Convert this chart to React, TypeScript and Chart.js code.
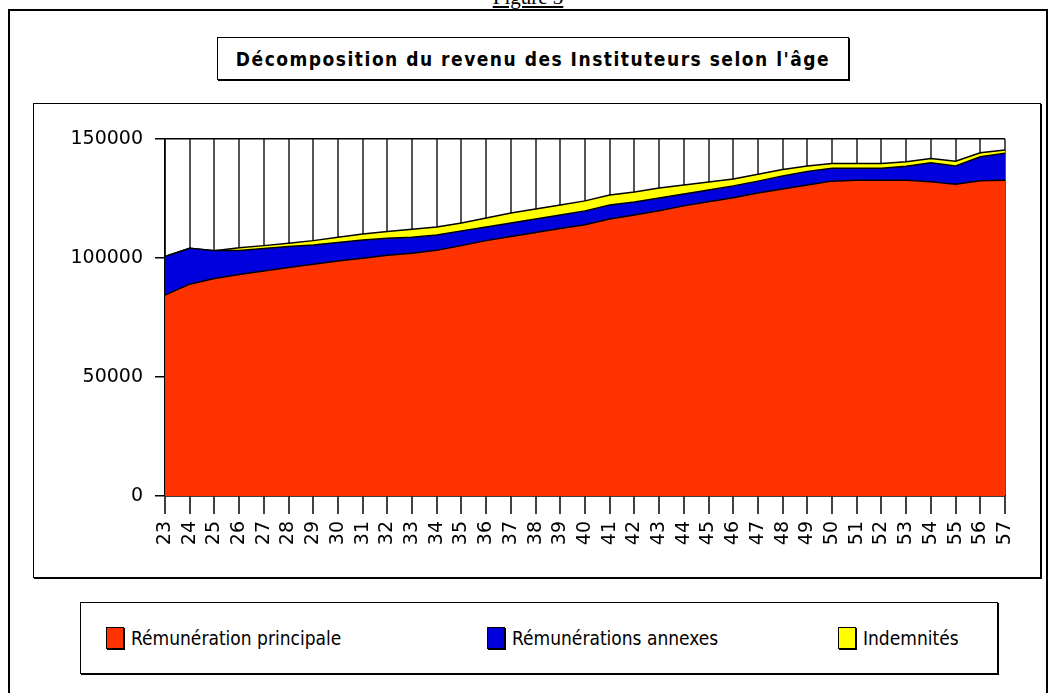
import React, { useEffect, useRef } from "react";
import { Chart, registerables } from "chart.js";

Chart.register(...registerables);

const ages = ["23","24","25","26","27","28","29","30","31","32","33","34","35","36","37","38","39","40","41","42","43","44","45","46","47","48","49","50","51","52","53","54","55","56","57"];

const remPrincipale = [84400, 89000, 91400, 93100, 94500, 96000, 97400, 98700, 99900, 101200, 102000, 103300, 105200, 107300, 109000, 110700, 112400, 114000, 116400, 118100, 119900, 121900, 123600, 125300, 127300, 129000, 130700, 132300, 132700, 132700, 132700, 132000, 131000, 132500, 132700];

const remAnnexes = [16200, 15100, 11700, 10000, 9500, 8800, 8100, 7800, 7700, 7100, 6700, 6400, 6200, 5700, 5700, 5700, 5700, 5800, 5900, 5400, 5300, 5000, 5000, 5000, 5000, 5500, 5700, 5400, 5000, 5000, 5900, 8000, 7700, 10000, 11300];

const indemnites = [0, 0, 0, 1200, 1200, 1400, 1800, 2200, 2500, 2800, 3400, 3300, 3300, 3800, 4200, 4200, 4200, 4200, 4200, 4200, 4200, 3800, 3300, 2900, 2900, 2700, 2300, 2000, 2000, 2000, 1800, 1800, 2000, 1700, 1400];

const yTicks = [0, 50000, 100000, 150000];

const seriesNames = ["Rémunération principale", "Rémunérations annexes", "Indemnités"];
const seriesColors = ["#ff3300", "#0000dd", "#ffff00"];

const tickFont = { family: "'DejaVu Sans', sans-serif", size: 19 };

export default function App() {
  const canvasRef = useRef<HTMLCanvasElement | null>(null);

  useEffect(() => {
    const canvas = canvasRef.current;
    if (!canvas) return;
    const values = [remPrincipale, remAnnexes, indemnites];
    const chart = new Chart(canvas, {
      type: "line",
      data: {
        labels: ages,
        datasets: values.map((v, i) => ({
          label: seriesNames[i],
          data: v,
          backgroundColor: seriesColors[i],
          borderColor: "#000",
          borderWidth: 1.5,
          pointRadius: 0,
          tension: 0,
          fill: i === 0 ? "origin" : "-1",
        })),
      },
      options: {
        animation: false,
        responsive: false,
        maintainAspectRatio: false,
        layout: { padding: { top: 35, right: 35, left: 0, bottom: 0 } },
        plugins: { legend: { display: false }, tooltip: { enabled: false }, title: { display: false } },
        scales: {
          x: {
            offset: false,
            grid: { color: "#555", lineWidth: 2, drawTicks: true, tickLength: 18, tickColor: "#000", tickWidth: 1.5 },
            border: { color: "#000", width: 1.5 },
            ticks: { color: "#000", font: tickFont, minRotation: 90, maxRotation: 90, padding: 7, autoSkip: false },
            afterFit: (s: any) => { s.height = 81; },
          },
          y: {
            stacked: true,
            min: 0,
            max: 150000,
            afterBuildTicks: (s: any) => { s.ticks = yTicks.map((v) => ({ value: v })); },
            grid: { color: "#000", lineWidth: 1.5, drawTicks: true, tickLength: 10 },
            border: { color: "#000", width: 1.5 },
            ticks: { color: "#000", font: tickFont, padding: 12, callback: (v: any) => String(v) },
            afterFit: (s: any) => { s.width = 131; },
          },
        },
      },
    });
    return () => chart.destroy();
  }, []);

  const legendFont = "'Liberation Sans Narrow', 'DejaVu Sans Condensed', sans-serif";

  return (
    <div style={{ position: "fixed", left: 0, top: 0, width: 1056, height: 693, background: "#fff", overflow: "hidden" }}>
      <div style={{ position: "absolute", left: 0, width: 1056, top: -15, textAlign: "center", fontFamily: "'Liberation Serif', serif", fontSize: 21, textDecoration: "underline" }}>
        Figure 3
      </div>
      <div style={{ position: "absolute", left: 8, top: 9, width: 1036, height: 720, border: "2px solid #000" }} />
      <div style={{ position: "absolute", left: 217, top: 37, width: 630, height: 41, border: "1px solid #000", boxShadow: "1px 1px 0 #000", display: "flex", alignItems: "center", justifyContent: "center", fontFamily: "'DejaVu Sans Condensed', 'DejaVu Sans', sans-serif", fontWeight: "bold", fontStretch: "condensed", fontSize: 19, letterSpacing: 1.5 }}>
        Décomposition du revenu des Instituteurs selon l'âge
      </div>
      <div style={{ position: "absolute", left: 33, top: 103, width: 1006, height: 473, border: "1px solid #000", boxShadow: "1px 1px 0 #000" }}>
        <canvas ref={canvasRef} width={1006} height={473} style={{ display: "block" }} />
      </div>
      <div style={{ position: "absolute", left: 80, top: 602, width: 916, height: 70, border: "1px solid #000", boxShadow: "1px 1px 0 #000", fontFamily: legendFont, fontSize: 19 }}>
        {seriesNames.map((n, i) => (
          <div key={n} style={{ position: "absolute", left: [25, 406, 757][i], top: 24, display: "flex", alignItems: "center" }}>
            <span style={{ display: "inline-block", width: 16, height: 20, background: seriesColors[i], border: "1px solid #000", boxShadow: "1px 1px 0 #000", marginRight: 7 }} />
            <span>{n}</span>
          </div>
        ))}
      </div>
    </div>
  );
}
